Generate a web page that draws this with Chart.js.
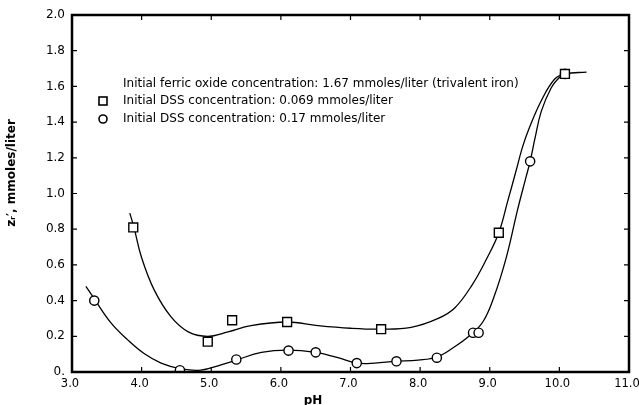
<!DOCTYPE html>
<html>
<head>
<meta charset="utf-8">
<script src="https://cdn.jsdelivr.net/npm/chart.js@4/dist/chart.umd.min.js"></script>
<style>
  html, body { margin: 0; padding: 0; background: #fff; }
  #wrap { width: 639px; height: 405px; }
</style>
</head>
<body>
<div id="wrap"><canvas id="chart" width="639" height="405"></canvas></div>
<script>
// measured points, DSS 0.069 mmoles/liter (squares)
const squarePH = [3.88, 4.95, 5.30, 6.09, 7.44, 9.13, 10.08];
const squareZ  = [0.81, 0.17, 0.29, 0.28, 0.24, 0.78, 1.67];

// measured points, DSS 0.17 mmoles/liter (circles)
const circlePH = [3.32, 4.55, 5.36, 6.11, 6.50, 7.09, 7.66, 8.24, 8.76, 8.84, 9.58, 10.08];
const circleZ  = [0.40, 0.01, 0.07, 0.12, 0.11, 0.05, 0.06, 0.08, 0.22, 0.22, 1.18, 1.67];

// hand drawn curves
const squareCurvePH = [3.83, 3.89, 4.00, 4.18, 4.42, 4.67, 4.95, 5.24, 5.57, 6.09, 6.53, 7.00, 7.44, 7.87, 8.26, 8.50, 8.75, 8.95, 9.13, 9.26, 9.38, 9.47, 9.57, 9.74, 9.93, 10.08, 10.39];
const squareCurveZ  = [0.89, 0.81, 0.64, 0.46, 0.31, 0.225, 0.20, 0.225, 0.26, 0.28, 0.26, 0.245, 0.24, 0.25, 0.30, 0.36, 0.49, 0.63, 0.78, 0.96, 1.13, 1.26, 1.37, 1.52, 1.64, 1.67, 1.68];

const circleCurvePH = [3.20, 3.32, 3.56, 3.80, 4.03, 4.28, 4.57, 4.85, 5.14, 5.36, 5.72, 6.10, 6.50, 6.82, 7.10, 7.35, 7.64, 7.97, 8.24, 8.49, 8.70, 8.90, 9.06, 9.24, 9.40, 9.52, 9.58, 9.65, 9.74, 9.88, 10.00, 10.08];
const circleCurveZ  = [0.48, 0.41, 0.275, 0.18, 0.105, 0.05, 0.017, 0.01, 0.04, 0.067, 0.11, 0.123, 0.11, 0.08, 0.05, 0.05, 0.06, 0.067, 0.084, 0.14, 0.20, 0.28, 0.42, 0.645, 0.91, 1.09, 1.18, 1.31, 1.46, 1.59, 1.65, 1.67];

const legendLines = [
  "Initial ferric oxide concentration: 1.67 mmoles/liter (trivalent iron)",
  "Initial DSS concentration: 0.069 mmoles/liter",
  "Initial DSS concentration: 0.17 mmoles/liter"
];
const xTitle = "pH";
const yTitle = "z\u1D63\u2032, mmoles/liter";

const FONT = "'DejaVu Sans', sans-serif";

function toXY(xs, ys) {
  return xs.map((x, i) => ({ x: x, y: ys[i] }));
}

// frame with inward ticks, legend and axis titles
const extras = {
  id: 'extras',
  afterDraw(chart) {
    const ctx = chart.ctx;
    const a = chart.chartArea;
    const xs = chart.scales.x;
    const ys = chart.scales.y;
    ctx.save();
    ctx.strokeStyle = '#000';
    ctx.lineWidth = 2.5;
    ctx.strokeRect(a.left, a.top, a.right - a.left, a.bottom - a.top);

    ctx.lineWidth = 1.2;
    ctx.beginPath();
    xs.ticks.forEach(t => {
      const px = xs.getPixelForValue(t.value);
      ctx.moveTo(px, a.bottom); ctx.lineTo(px, a.bottom - 5);
      ctx.moveTo(px, a.top); ctx.lineTo(px, a.top + 5);
    });
    ys.ticks.forEach(t => {
      const py = ys.getPixelForValue(t.value);
      ctx.moveTo(a.left, py); ctx.lineTo(a.left + 5, py);
      ctx.moveTo(a.right, py); ctx.lineTo(a.right - 5, py);
    });
    ctx.stroke();

    // legend
    ctx.fillStyle = '#000';
    ctx.font = '12px ' + FONT;
    ctx.textBaseline = 'middle';
    ctx.textAlign = 'left';
    const lx = 123, ly = [84, 101, 119];
    legendLines.forEach((s, i) => ctx.fillText(s, lx, ly[i]));
    ctx.lineWidth = 1.6;
    ctx.strokeRect(99, ly[1] - 4, 8, 8);
    ctx.beginPath();
    ctx.arc(103, ly[2], 4, 0, Math.PI * 2);
    ctx.stroke();

    // axis titles
    ctx.font = 'bold 12px ' + FONT;
    ctx.textAlign = 'center';
    ctx.fillText(xTitle, 313, 401);
    ctx.translate(12, 173);
    ctx.rotate(-Math.PI / 2);
    ctx.fillText(yTitle, 0, 0);
    ctx.restore();
  }
};

new Chart("chart", {
  type: "scatter",
  data: {
    datasets: [
      {
        data: toXY(squarePH, squareZ),
        pointStyle: 'rect',
        pointRadius: 6.3,
        pointBackgroundColor: '#fff',
        pointBorderColor: '#000',
        pointBorderWidth: 1.4,
        showLine: false,
        order: 0
      },
      {
        data: toXY(circlePH, circleZ),
        pointStyle: 'circle',
        pointRadius: 4.6,
        pointBackgroundColor: '#fff',
        pointBorderColor: '#000',
        pointBorderWidth: 1.4,
        showLine: false,
        order: 0
      },
      {
        data: toXY(squareCurvePH, squareCurveZ),
        showLine: true,
        pointRadius: 0,
        borderColor: '#000',
        borderWidth: 1.3,
        tension: 0.4,
        order: 1
      },
      {
        data: toXY(circleCurvePH, circleCurveZ),
        showLine: true,
        pointRadius: 0,
        borderColor: '#000',
        borderWidth: 1.3,
        tension: 0.4,
        order: 1
      }
    ]
  },
  options: {
    responsive: false,
    animation: false,
    layout: { padding: { top: 15, right: 10, left: 0, bottom: 0 } },
    plugins: {
      legend: { display: false },
      tooltip: { enabled: false }
    },
    scales: {
      x: {
        type: 'linear',
        min: 3,
        max: 11,
        afterFit: s => { s.height = 33; s.paddingLeft = 0; s.paddingRight = 0; },
        grid: { display: false, drawTicks: false },
        border: { display: false },
        ticks: {
          stepSize: 1,
          padding: 5,
          labelOffset: -2,
          color: '#000',
          font: { family: FONT, size: 11.5 },
          maxRotation: 0,
          callback: v => v.toFixed(1)
        }
      },
      y: {
        type: 'linear',
        min: 0,
        max: 2,
        afterFit: s => { s.width = 72; s.paddingTop = 0; s.paddingBottom = 0; },
        grid: { display: false, drawTicks: false },
        border: { display: false },
        ticks: {
          stepSize: 0.2,
          padding: 7,
          color: '#000',
          font: { family: FONT, size: 12 },
          callback: v => v === 0 ? '0.' : v.toFixed(1)
        }
      }
    }
  },
  plugins: [extras]
});
</script>
</body>
</html>
